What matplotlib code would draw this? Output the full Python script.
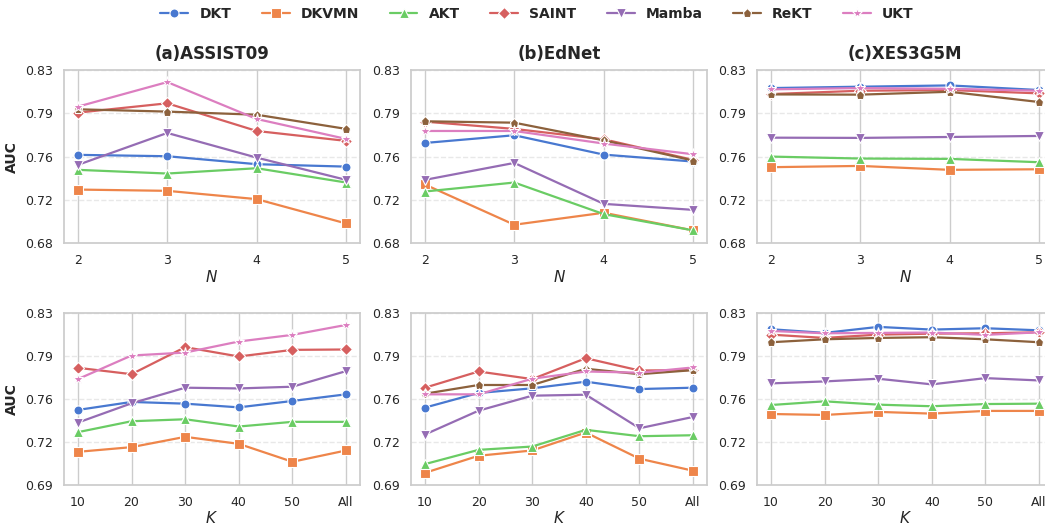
import matplotlib
matplotlib.use("Agg")
import matplotlib.pyplot as plt
import numpy as np
import seaborn as sns

# models and styling order
models = ["DKT", "DKVMN", "AKT", "SAINT", "Mamba", "ReKT", "UKT"]
markers = ["o", "s", "^", "D", "v", "p", "*"]

datasets = ["(a)ASSIST09", "(b)EdNet", "(c)XES3G5M"]
n_values = [2, 3, 4, 5]
k_labels = ["10", "20", "30", "40", "50", "All"]

# AUC vs N (top row)
auc_n_assist09 = {
    "DKT":   [0.7565, 0.7553, 0.7484, 0.7463],
    "DKVMN": [0.7264, 0.7253, 0.7181, 0.6970],
    "AKT":   [0.7435, 0.7403, 0.7449, 0.7325],
    "SAINT": [0.7931, 0.8012, 0.7772, 0.7686],
    "Mamba": [0.7478, 0.7755, 0.7541, 0.7348],
    "ReKT":  [0.7960, 0.7940, 0.7913, 0.7790],
    "UKT":   [0.7983, 0.8196, 0.7876, 0.7703],
}
auc_n_ednet = {
    "DKT":   [0.7668, 0.7735, 0.7567, 0.7507],
    "DKVMN": [0.7308, 0.6959, 0.7063, 0.6910],
    "AKT":   [0.7247, 0.7325, 0.7051, 0.6910],
    "SAINT": [0.7853, 0.7790, 0.7700, 0.7521],
    "Mamba": [0.7348, 0.7495, 0.7140, 0.7088],
    "ReKT":  [0.7856, 0.7844, 0.7691, 0.7515],
    "UKT":   [0.7772, 0.7772, 0.7663, 0.7570],
}
auc_n_xes = {
    "DKT":   [0.8144, 0.8156, 0.8167, 0.8127],
    "DKVMN": [0.7458, 0.7469, 0.7435, 0.7440],
    "AKT":   [0.7550, 0.7533, 0.7530, 0.7501],
    "SAINT": [0.8092, 0.8121, 0.8127, 0.8098],
    "Mamba": [0.7714, 0.7712, 0.7720, 0.7729],
    "ReKT":  [0.8089, 0.8087, 0.8112, 0.8023],
    "UKT":   [0.8133, 0.8144, 0.8138, 0.8121],
}

# AUC vs K (bottom row); ReKT not reported for ASSIST09
auc_k_assist09 = {
    "DKT":   [0.7511, 0.7576, 0.7562, 0.7532, 0.7584, 0.7638],
    "DKVMN": [0.7170, 0.7208, 0.7292, 0.7235, 0.7089, 0.7181],
    "AKT":   [0.7330, 0.7419, 0.7435, 0.7376, 0.7414, 0.7414],
    "SAINT": [0.7854, 0.7802, 0.8022, 0.7946, 0.8000, 0.8003],
    "Mamba": [0.7408, 0.7565, 0.7692, 0.7686, 0.7700, 0.7827],
    "UKT":   [0.7762, 0.7954, 0.7978, 0.8068, 0.8122, 0.8203],
}
auc_k_ednet = {
    "DKT":   [0.7530, 0.7649, 0.7687, 0.7741, 0.7681, 0.7692],
    "DKVMN": [0.6999, 0.7138, 0.7181, 0.7327, 0.7114, 0.7016],
    "AKT":   [0.7070, 0.7186, 0.7213, 0.7349, 0.7297, 0.7305],
    "SAINT": [0.7692, 0.7824, 0.7762, 0.7932, 0.7832, 0.7835],
    "Mamba": [0.7311, 0.7505, 0.7627, 0.7635, 0.7362, 0.7454],
    "ReKT":  [0.7643, 0.7714, 0.7714, 0.7846, 0.7802, 0.7835],
    "UKT":   [0.7638, 0.7638, 0.7765, 0.7824, 0.7814, 0.7857],
}
auc_k_xes = {
    "DKT":   [0.8168, 0.8138, 0.8187, 0.8165, 0.8176, 0.8159],
    "DKVMN": [0.7478, 0.7470, 0.7495, 0.7481, 0.7503, 0.7503],
    "AKT":   [0.7551, 0.7581, 0.7554, 0.7541, 0.7559, 0.7562],
    "SAINT": [0.8124, 0.8097, 0.8124, 0.8132, 0.8135, 0.8143],
    "Mamba": [0.7727, 0.7743, 0.7765, 0.7719, 0.7770, 0.7751],
    "ReKT":  [0.8062, 0.8086, 0.8097, 0.8103, 0.8086, 0.8062],
    "UKT":   [0.8154, 0.8135, 0.8138, 0.8141, 0.8122, 0.8143],
}

top_data = [auc_n_assist09, auc_n_ednet, auc_n_xes]
bottom_data = [auc_k_assist09, auc_k_ednet, auc_k_xes]

sns.set_theme(style="whitegrid", palette="muted")
plt.rcParams["font.family"] = ["DejaVu Sans"]
colors = sns.color_palette("muted", len(models))

fig = plt.figure(figsize=(10.45, 5.25), dpi=100)

lefts = [0.0612, 0.3933, 0.7244]
width = 0.2833


def style_axis(ax, lo, hi):
    ticks = np.linspace(lo, hi, 5)
    ax.set_ylim(lo, hi)
    ax.set_yticks(ticks)
    ax.set_yticklabels(["%.2f" % t for t in ticks])
    ax.yaxis.grid(True, linestyle="--", alpha=0.45)
    ax.xaxis.grid(True, linestyle="-")
    ax.tick_params(axis="both", labelsize=9, pad=2)
    for sp in ax.spines.values():
        sp.set_color("#cccccc")


handles = []
for col in range(3):
    # top row: vary N
    ax = fig.add_axes([lefts[col], 0.537, width, 0.3295])
    for i, m in enumerate(models):
        ys = top_data[col].get(m)
        if ys is None:
            continue
        line, = ax.plot(n_values, ys, marker=markers[i], color=colors[i], lw=1.6,
                        ms=8 if markers[i] == "*" else 6.5, mec="white", mew=0.8, label=m)
        if col == 0:
            handles.append(line)
    ax.set_xlim(1.845, 5.155)
    ax.set_xticks(n_values)
    style_axis(ax, 0.68, 0.83)
    ax.set_title(datasets[col], fontsize=12, fontweight="bold", pad=8)
    ax.set_xlabel("$N$", fontsize=11, labelpad=1)
    if col == 0:
        ax.set_ylabel("AUC", fontsize=10, fontweight="bold")

    # bottom row: vary K
    ax = fig.add_axes([lefts[col], 0.0762, width, 0.3276])
    xs = np.arange(len(k_labels))
    for i, m in enumerate(models):
        ys = bottom_data[col].get(m)
        if ys is None:
            continue
        ax.plot(xs, ys, marker=markers[i], color=colors[i], lw=1.6,
                ms=8 if markers[i] == "*" else 6.5, mec="white", mew=0.8)
    ax.set_xlim(-0.26, 5.26)
    ax.set_xticks(xs)
    ax.set_xticklabels(k_labels)
    style_axis(ax, 0.69, 0.83)
    ax.set_xlabel("$K$", fontsize=11, labelpad=1)
    if col == 0:
        ax.set_ylabel("AUC", fontsize=10, fontweight="bold")

fig.legend(handles=handles, labels=models, loc="upper center", bbox_to_anchor=(0.514, 1.01),
           ncol=7, frameon=False, prop={"weight": "bold", "size": 10},
           handlelength=2.0, columnspacing=2.2)

fig.savefig("out.png", dpi=100)
